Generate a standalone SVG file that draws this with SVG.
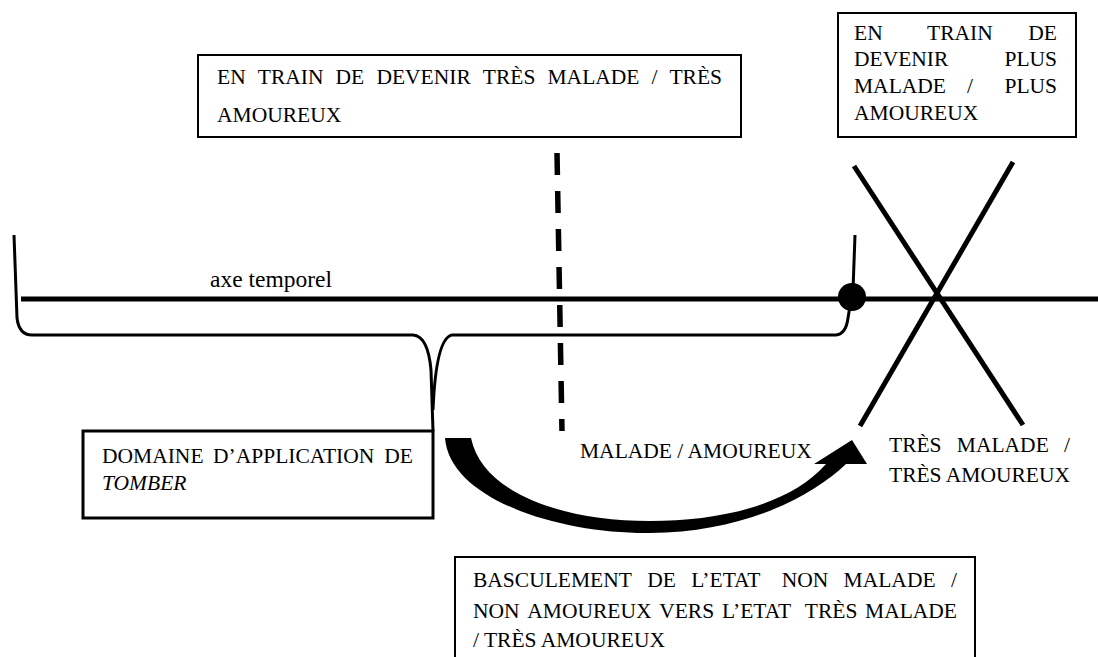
<svg xmlns="http://www.w3.org/2000/svg" width="1098" height="657" viewBox="0 0 1098 657">
<style>
text{font-family:"Liberation Serif","Times New Roman",serif;fill:#000;font-size:21.5px}
.box{fill:#fff;stroke:#000;stroke-width:2}
.ln{fill:none;stroke:#000;stroke-linecap:butt}
</style>
<rect width="1098" height="657" fill="#fff"/>
<g id="connectors">
<line class="ln" x1="21" y1="299" x2="1098" y2="299" stroke-width="5"/>
<path class="ln" stroke-width="3" d="M14 235 L17 318 Q19 335 32 335 L413 335 Q428 336 431 370 L433 431"/>
<path class="ln" stroke-width="3" d="M433 410 Q436 338 452 335 L836 335 Q846 334 848 318 L851 300"/>
<path class="ln" stroke-width="3" d="M853 290 L855 235"/>
<circle cx="852" cy="297" r="14" fill="#000"/>
<line class="ln" x1="557" y1="153" x2="562" y2="431" stroke-width="5.5" stroke-dasharray="22 16"/>
<line class="ln" x1="854" y1="166" x2="1023" y2="425" stroke-width="5"/>
<line class="ln" x1="1013" y1="162" x2="860" y2="426" stroke-width="5"/>
<path fill="#000" d="M445 438 C450 500 560 534 650 533 C740 532 808 500 846 464 L867 464 L852 440 L814 464 L826 464 C790 505 720 521 650 521 C560 521 482 492 471 438 Z"/>
</g>
<g id="top-box">
<rect class="box" x="198" y="55" width="543" height="82"/>
<text y="84"><tspan x="217">EN</tspan><tspan x="257.8">TRAIN</tspan><tspan x="335.6">DE</tspan><tspan x="376.4">DEVENIR</tspan><tspan x="482.8">TRÈS</tspan><tspan x="547.5">MALADE</tspan><tspan x="651.6">/</tspan><tspan x="722" text-anchor="end">TRÈS</tspan></text>
<text x="217" y="122">AMOUREUX</text>
</g>
<g id="right-box">
<rect class="box" x="838" y="13" width="238" height="124"/>
<g style="font-size:19.5px">
<text y="40"><tspan x="854">EN</tspan><tspan x="927">TRAIN</tspan><tspan x="1057" text-anchor="end">DE</tspan></text>
<text y="66"><tspan x="854">DEVENIR</tspan><tspan x="1057" text-anchor="end">PLUS</tspan></text>
<text y="93"><tspan x="854">MALADE</tspan><tspan x="967">/</tspan><tspan x="1057" text-anchor="end">PLUS</tspan></text>
<text x="854" y="120">AMOUREUX</text>
</g>
</g>
<g id="left-box">
<rect x="83" y="431" width="350" height="87" fill="#fff" stroke="#000" stroke-width="3"/>
<g style="font-size:21px">
<text y="463"><tspan x="102">DOMAINE</tspan><tspan x="213">D’APPLICATION</tspan><tspan x="413" text-anchor="end">DE</tspan></text>
<text x="102" y="490" font-style="italic">TOMBER</text>
</g>
</g>
<g id="bottom-box">
<path class="ln" stroke-width="2" d="M455 660 L455 557 L975 557 L975 660"/>
<text y="587"><tspan x="473">BASCULEMENT</tspan><tspan x="647.2">DE</tspan><tspan x="691.2">L’ETAT</tspan><tspan x="781.7">NON</tspan><tspan x="843.6">MALADE</tspan><tspan x="957" text-anchor="end">/</tspan></text>
<text y="618"><tspan x="473">NON</tspan><tspan x="527.3">AMOUREUX</tspan><tspan x="659.2">VERS</tspan><tspan x="721.9">L’ETAT</tspan><tspan x="804.8">TRÈS</tspan><tspan x="957" text-anchor="end">MALADE</tspan></text>
<text x="473" y="647">/ TRÈS AMOUREUX</text>
</g>
<g id="labels">
<text x="210" y="287" style="font-size:23.5px">axe temporel</text>
<text x="580" y="458">MALADE / AMOUREUX</text>
<text y="452"><tspan x="889">TRÈS</tspan><tspan x="956.8">MALADE</tspan><tspan x="1070" text-anchor="end">/</tspan></text>
<text x="889" y="482">TRÈS AMOUREUX</text>
</g>
</svg>
